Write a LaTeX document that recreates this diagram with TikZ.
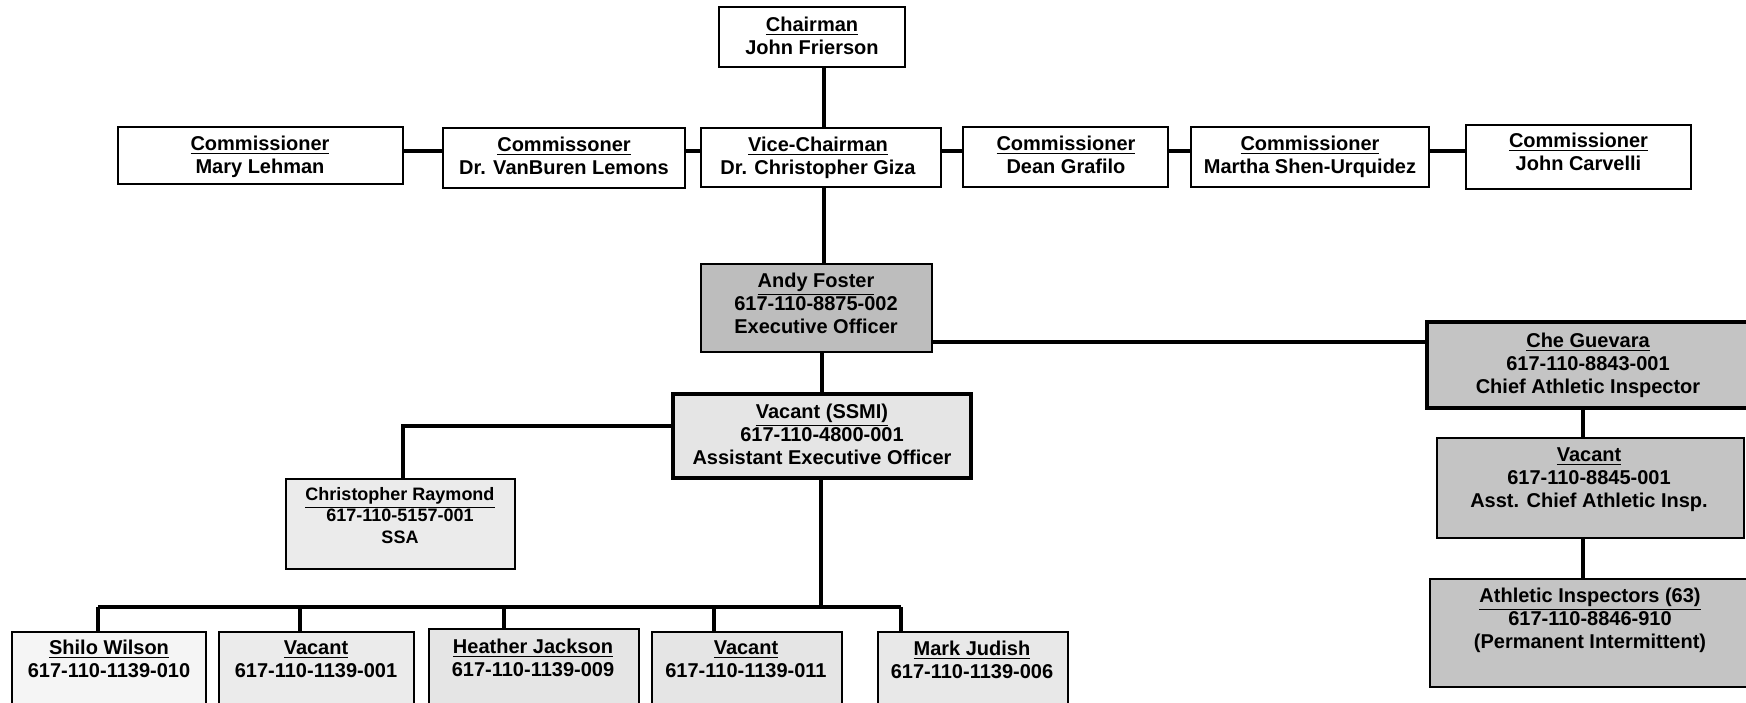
\documentclass[tikz,border=0pt]{standalone}
\usepackage{fontspec}
\setmainfont{Liberation Sans}
\usetikzlibrary{calc}
\begin{document}
\begin{tikzpicture}[x=0.5pt,y=-0.5pt,
  box/.style={draw=black,line width=1pt,rectangle,inner sep=0pt},
  thickbox/.style={box,line width=2.2pt},
  thinbox/.style={box,line width=0.8pt},
  txt/.style={anchor=north,inner sep=0pt,align=center,font=\bfseries\fontsize{10}{11.5}\selectfont},
  smalltxt/.style={txt,font=\bfseries\fontsize{9}{10}\selectfont},
  conn/.style={draw=black,line width=1.7pt},
  bus/.style={draw=black,line width=1.9pt}]
\useasboundingbox (0,0) rectangle (1746,702);
\clip (0,0) rectangle (1746,702);
\fill[white] (0,0) rectangle (1746,702);

% coordinates for connector lines
\coordinate (cx) at (824,0);
\coordinate (ry) at (0,151);
\coordinate (ax) at (822,0);
\coordinate (ey) at (0,342);
\coordinate (sy) at (0,426);
\coordinate (rx) at (403,0);
\coordinate (dx) at (821,0);
\coordinate (busy) at (0,607);
\coordinate (busL) at (98,607);
\coordinate (busR) at (901,607);
\coordinate (chx) at (1583,0);
\coordinate (d2) at (300,0);
\coordinate (d3) at (504,0);
\coordinate (d4) at (714,0);

% row 1
\node[box,minimum width=93pt,minimum height=30pt] (chair) at (812,37) {};
% row 2
\node[box,minimum width=142.5pt,minimum height=28.5pt] (mary) at (260.5,155.5) {};
\node[box,minimum width=121pt,minimum height=30pt] (lemons) at (564,158) {};
\node[box,minimum width=120pt,minimum height=29.5pt] (vice) at (821,157.5) {};
\node[box,minimum width=102.5pt,minimum height=30pt] (dean) at (1065.5,157) {};
\node[box,minimum width=119pt,minimum height=30pt] (martha) at (1310,157) {};
\node[box,minimum width=112.5pt,minimum height=32pt] (carvelli) at (1578.5,157) {};
% executive
\node[box,fill=black!26,minimum width=115.5pt,minimum height=44pt] (andy) at (816.5,308) {};
\node[thickbox,fill=black!10,minimum width=149pt,minimum height=42pt] (ssmi) at (822,436) {};
\node[thinbox,fill=black!8,minimum width=114.5pt,minimum height=45pt] (raymond) at (400.5,524) {};
% right branch
\node[thickbox,fill=black!23,minimum width=166.5pt,minimum height=43pt] (che) at (1593.5,365) {};
\node[box,fill=black!23,minimum width=153.5pt,minimum height=50pt] (asst) at (1590.5,488) {};
\node[box,fill=black!23,minimum width=161pt,minimum height=54pt] (athl) at (1591,633) {};
% bottom row
\node[box,fill=black!4,minimum width=97pt,minimum height=44pt] (shilo) at (109,676) {};
\node[box,fill=black!8,minimum width=97.5pt,minimum height=44pt] (vaca) at (316.5,676) {};
\node[box,fill=black!10,minimum width=105pt,minimum height=45.5pt] (heather) at (534,674.5) {};
\node[box,fill=black!10,minimum width=95pt,minimum height=44pt] (vacb) at (747,676) {};
\node[box,fill=black!9,minimum width=95pt,minimum height=44pt] (mark) at (973,676) {};

% texts
\node[txt] (chairT) at (812,16.5) {\underline{Chairman}\\John Frierson};
\node[txt] (maryT) at (260,136) {\underline{Commissioner}\\Mary Lehman};
\node[txt] (lemonsT) at (564,136.5) {\underline{Commissoner}\\Dr. VanBuren Lemons};
\node[txt] (viceT) at (818,136.5) {\underline{Vice-Chairman}\\Dr. Christopher Giza};
\node[txt] (deanT) at (1066,136) {\underline{Commissioner}\\Dean Grafilo};
\node[txt] (marthaT) at (1310,136) {\underline{Commissioner}\\Martha Shen-Urquidez};
\node[txt] (carvelliT) at (1578.5,133) {\underline{Commissioner}\\John Carvelli};
\node[txt] (andyT) at (816,272.5) {\underline{Andy Foster}\\617-110-8875-002\\Executive Officer};
\node[txt] (ssmiT) at (822,404) {\underline{Vacant (SSMI)}\\617-110-4800-001\\Assistant Executive Officer};
\node[smalltxt] (raymondT) at (400,487.5) {\underline{Christopher Raymond}\\[-1pt]617-110-5157-001\\[1pt]SSA};
\node[txt] (cheT) at (1588,332.5) {\underline{Che Guevara}\\617-110-8843-001\\Chief Athletic Inspector};
\node[txt] (asstT) at (1589,447.5) {\underline{Vacant}\\617-110-8845-001\\Asst. Chief Athletic Insp.};
\node[txt] (athlT) at (1590,587.5) {\underline{Athletic Inspectors (63)}\\617-110-8846-910\\(Permanent Intermittent)};
\node[txt] (shiloT) at (109,639.5) {\underline{Shilo Wilson}\\617-110-1139-010};
\node[txt] (vacaT) at (316,640.5) {\underline{Vacant}\\617-110-1139-001};
\node[txt] (heatherT) at (533,638.5) {\underline{Heather Jackson}\\617-110-1139-009};
\node[txt] (vacbT) at (746,640.5) {\underline{Vacant}\\617-110-1139-011};
\node[txt] (markT) at (972,640.5) {\underline{Mark Judish}\\617-110-1139-006};

% connectors
\draw[conn] (chair.south -| cx) -- (vice.north -| cx);
\draw[conn] (mary.east |- ry) -- (lemons.west |- ry);
\draw[conn] (lemons.east |- ry) -- (vice.west |- ry);
\draw[conn] (vice.east |- ry) -- (dean.west |- ry);
\draw[conn] (dean.east |- ry) -- (martha.west |- ry);
\draw[conn] (martha.east |- ry) -- (carvelli.west |- ry);
\draw[conn] (vice.south -| cx) -- (andy.north -| cx);
\draw[conn] (andy.south -| ax) -- (ssmi.north -| ax);
\draw[conn] (andy.east |- ey) -- (che.west |- ey);
\draw[conn] (ssmi.west |- sy) -| (raymond.north -| rx);
\draw[conn] (che.south -| chx) -- (asst.north -| chx);
\draw[conn] (asst.south -| chx) -- (athl.north -| chx);
\draw[conn] (ssmi.south -| dx) -- (busy -| dx);
\draw[bus] (busL) -- (busR);
\draw[conn] (busL) -- (shilo.north -| busL);
\draw[conn] (busy -| d2) -- (vaca.north -| d2);
\draw[conn] (busy -| d3) -- (heather.north -| d3);
\draw[conn] (busy -| d4) -- (vacb.north -| d4);
\draw[conn] (busR) -- (mark.north -| busR);
\end{tikzpicture}
\end{document}
